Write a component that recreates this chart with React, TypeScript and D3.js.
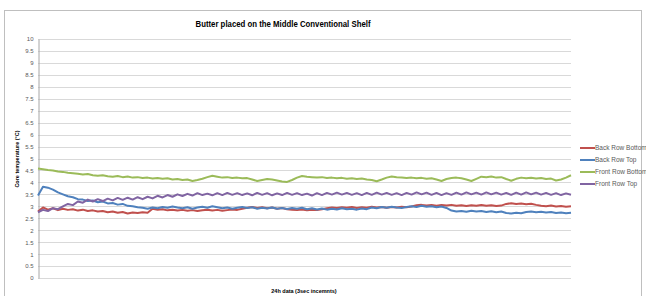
import React, { useRef, useEffect } from 'react';
import * as d3 from 'd3';

const yTicks = [0, 0.5, 1, 1.5, 2, 2.5, 3, 3.5, 4, 4.5, 5, 5.5, 6, 6.5, 7, 7.5, 8, 8.5, 9, 9.5, 10];

const seriesNames = ['Back Row Bottom', 'Back Row Top', 'Front Row Bottom', 'Front Row Top'];
const seriesColours = ['#C0504D', '#4F81BD', '#9BBB59', '#8064A2'];

const backRowBottom = [
  2.78, 2.95, 2.86, 2.92, 2.84, 2.9, 2.85, 2.88, 2.82, 2.86,
  2.8, 2.83, 2.78, 2.8, 2.75, 2.78, 2.73, 2.76, 2.7, 2.74,
  2.72, 2.75, 2.73, 2.9, 2.86, 2.88, 2.83, 2.86, 2.82, 2.85,
  2.81, 2.84, 2.8, 2.83, 2.86, 2.82, 2.85, 2.81, 2.84, 2.87,
  2.85, 2.9, 2.94, 2.97, 2.93, 2.96, 2.92, 2.95, 2.9, 2.93,
  2.88, 2.86, 2.84, 2.87, 2.83, 2.86, 2.84, 2.88, 2.92, 2.95,
  2.93, 2.96, 2.94, 2.97, 2.93, 2.96, 2.94, 2.98, 2.95, 2.97,
  2.94, 2.97, 2.95, 2.98, 2.96, 2.99, 3.04, 3.06, 3.03, 3.05,
  3.02, 3.05, 3.03, 3.06, 3.02, 3.04, 3.01, 3.04, 3.02, 3.05,
  3.02, 3.04, 3.01, 3.03, 3.1, 3.13, 3.1, 3.12, 3.09, 3.11,
  3.06, 3.02, 3.0, 3.03, 2.99, 3.01, 2.98, 3.0,
];

const backRowTop = [
  3.45, 3.82, 3.78, 3.7, 3.58, 3.5, 3.42, 3.38, 3.3, 3.28,
  3.22, 3.24, 3.17, 3.2, 3.12, 3.14, 3.07, 3.1, 3.02, 3.0,
  2.96, 2.94, 2.9, 2.95, 2.92, 2.97, 2.94, 2.99, 2.95, 2.92,
  2.96, 2.9, 2.95, 2.98, 2.94, 3.0, 2.96, 2.92, 2.95, 2.9,
  2.94, 2.97, 2.93, 2.96, 2.9, 2.94, 2.91, 2.95, 2.9, 2.93,
  2.89, 2.93, 2.9, 2.94, 2.88, 2.92, 2.87, 2.91, 2.86, 2.9,
  2.87, 2.92, 2.88, 2.9, 2.86, 2.91, 2.88, 2.95, 2.92, 2.97,
  2.94, 2.98, 2.95, 2.93, 2.97, 3.0, 2.97, 3.02, 2.98, 3.0,
  2.96, 2.99, 2.93, 2.82, 2.78, 2.8, 2.77, 2.81, 2.78, 2.8,
  2.76, 2.79, 2.75, 2.78, 2.72, 2.7, 2.73, 2.71, 2.76, 2.78,
  2.75, 2.77, 2.74, 2.76, 2.72, 2.74, 2.71, 2.73,
];

const frontRowBottom = [
  4.58, 4.55, 4.52, 4.5, 4.46, 4.44, 4.4, 4.38, 4.36, 4.33,
  4.35, 4.3, 4.28, 4.3, 4.26, 4.24, 4.27, 4.22, 4.25, 4.2,
  4.22, 4.18, 4.2, 4.16, 4.18, 4.15, 4.17, 4.12, 4.14, 4.1,
  4.12, 4.06, 4.1, 4.15, 4.22, 4.28, 4.24, 4.2, 4.22, 4.18,
  4.2, 4.17, 4.18, 4.12, 4.06, 4.1, 4.14, 4.12, 4.08, 4.04,
  4.02, 4.1, 4.2, 4.27, 4.24, 4.22, 4.2, 4.22, 4.18, 4.2,
  4.17, 4.19, 4.15, 4.17, 4.14, 4.16, 4.12, 4.1, 4.05, 4.12,
  4.2, 4.25, 4.22, 4.2, 4.18, 4.2, 4.17, 4.19, 4.15, 4.17,
  4.12, 4.06, 4.14, 4.18, 4.2, 4.17, 4.12, 4.06, 4.15, 4.24,
  4.22, 4.25, 4.2, 4.22, 4.14, 4.07, 4.15, 4.2, 4.17, 4.19,
  4.16, 4.18, 4.14, 4.16, 4.08, 4.12, 4.2, 4.3,
];

const frontRowTop = [
  2.75, 2.85, 2.8, 2.92, 2.88, 3.0, 3.1, 3.05, 3.2, 3.15,
  3.28, 3.2, 3.3, 3.22, 3.32, 3.25, 3.35, 3.27, 3.36, 3.28,
  3.38, 3.3, 3.4, 3.33, 3.44, 3.37, 3.47, 3.4, 3.5, 3.43,
  3.52, 3.45, 3.55, 3.47, 3.53, 3.46, 3.55, 3.47, 3.56, 3.48,
  3.55, 3.47, 3.54, 3.46, 3.56, 3.48, 3.55, 3.46, 3.54, 3.47,
  3.56, 3.48, 3.55, 3.47, 3.53, 3.45, 3.55, 3.47, 3.56, 3.49,
  3.57, 3.49, 3.56, 3.48, 3.55, 3.47, 3.56, 3.48, 3.57, 3.49,
  3.56, 3.48, 3.55, 3.47, 3.56, 3.49, 3.58, 3.5, 3.57, 3.48,
  3.56, 3.47, 3.55, 3.48, 3.57, 3.49, 3.58, 3.5, 3.57, 3.49,
  3.58, 3.5, 3.57, 3.49, 3.56, 3.48, 3.57, 3.49, 3.58, 3.5,
  3.57, 3.49, 3.56, 3.48, 3.55, 3.47, 3.54, 3.48,
];

const App = () => {
  const svgRef = useRef<SVGSVGElement>(null);

  useEffect(() => {
    if (!svgRef.current) return;
    const svg = d3.select(svgRef.current);
    svg.selectAll('*').remove();

    const margin = { left: 38, right: 571, top: 39, bottom: 278 };
    const font = "'Liberation Sans', Arial, sans-serif";

    // chart border
    svg.append('rect')
      .attr('x', 4.5).attr('y', 10.5)
      .attr('width', 637).attr('height', 292)
      .attr('fill', 'white')
      .attr('stroke', '#BFBFBF');

    const y = d3.scaleLinear().domain([0, 10]).range([margin.bottom, margin.top]);
    const allSeries = [backRowBottom, backRowTop, frontRowBottom, frontRowTop];
    const x = d3.scaleLinear().domain([0, backRowBottom.length - 1]).range([margin.left, margin.right]);

    // gridlines
    svg.append('g').selectAll('line')
      .data(yTicks)
      .enter().append('line')
      .attr('x1', margin.left).attr('x2', margin.right)
      .attr('y1', d => Math.round(y(d)) + 0.5).attr('y2', d => Math.round(y(d)) + 0.5)
      .attr('stroke', '#D9D9D9');

    const yAxis = svg.append('g')
      .attr('transform', `translate(${margin.left + 0.5},0)`)
      .call(d3.axisLeft(y).tickValues(yTicks).tickSize(0).tickPadding(5).tickFormat(d => String(d)));
    yAxis.select('.domain').attr('stroke', '#A6A6A6');
    yAxis.selectAll('text')
      .style('font-family', font)
      .style('font-size', '6px')
      .attr('fill', '#595959');

    const line = d3.line<number>()
      .x((_, i) => x(i))
      .y(d => y(d));

    allSeries.forEach((s, k) => {
      svg.append('path')
        .datum(s)
        .attr('d', line)
        .attr('fill', 'none')
        .attr('stroke', seriesColours[k])
        .attr('stroke-width', 2)
        .attr('stroke-linejoin', 'round');
    });

    // title
    svg.append('text')
      .attr('x', 283).attr('y', 27)
      .attr('text-anchor', 'middle')
      .attr('textLength', 175)
      .attr('lengthAdjust', 'spacingAndGlyphs')
      .style('font-family', font)
      .style('font-size', '9.5px')
      .style('font-weight', 'bold')
      .attr('fill', '#000')
      .text('Butter placed on the Middle Conventional Shelf');

    svg.append('text')
      .attr('transform', 'translate(19,159) rotate(-90)')
      .attr('text-anchor', 'middle')
      .style('font-family', font)
      .style('font-size', '5.5px')
      .style('font-weight', 'bold')
      .attr('fill', '#000')
      .text('Core temperature (°C)');

    svg.append('text')
      .attr('x', 304).attr('y', 293)
      .attr('text-anchor', 'middle')
      .style('font-family', font)
      .style('font-size', '5.5px')
      .style('font-weight', 'bold')
      .attr('fill', '#000')
      .text('24h  data (3sec incemnts)');

    // legend
    const legend = svg.append('g');
    seriesNames.forEach((name, k) => {
      const ly = 148 + k * 12;
      legend.append('line')
        .attr('x1', 580).attr('x2', 595)
        .attr('y1', ly).attr('y2', ly)
        .attr('stroke', seriesColours[k])
        .attr('stroke-width', 2);
      legend.append('text')
        .attr('x', 595).attr('y', ly + 2.2)
        .style('font-family', font)
        .style('font-size', '6.5px')
        .attr('fill', '#595959')
        .text(name);
    });
  }, []);

  return (
    <svg
      ref={svgRef}
      width={646}
      height={296}
      style={{ position: 'absolute', left: 0, top: 0, background: 'white' }}
    />
  );
};

export default App;
